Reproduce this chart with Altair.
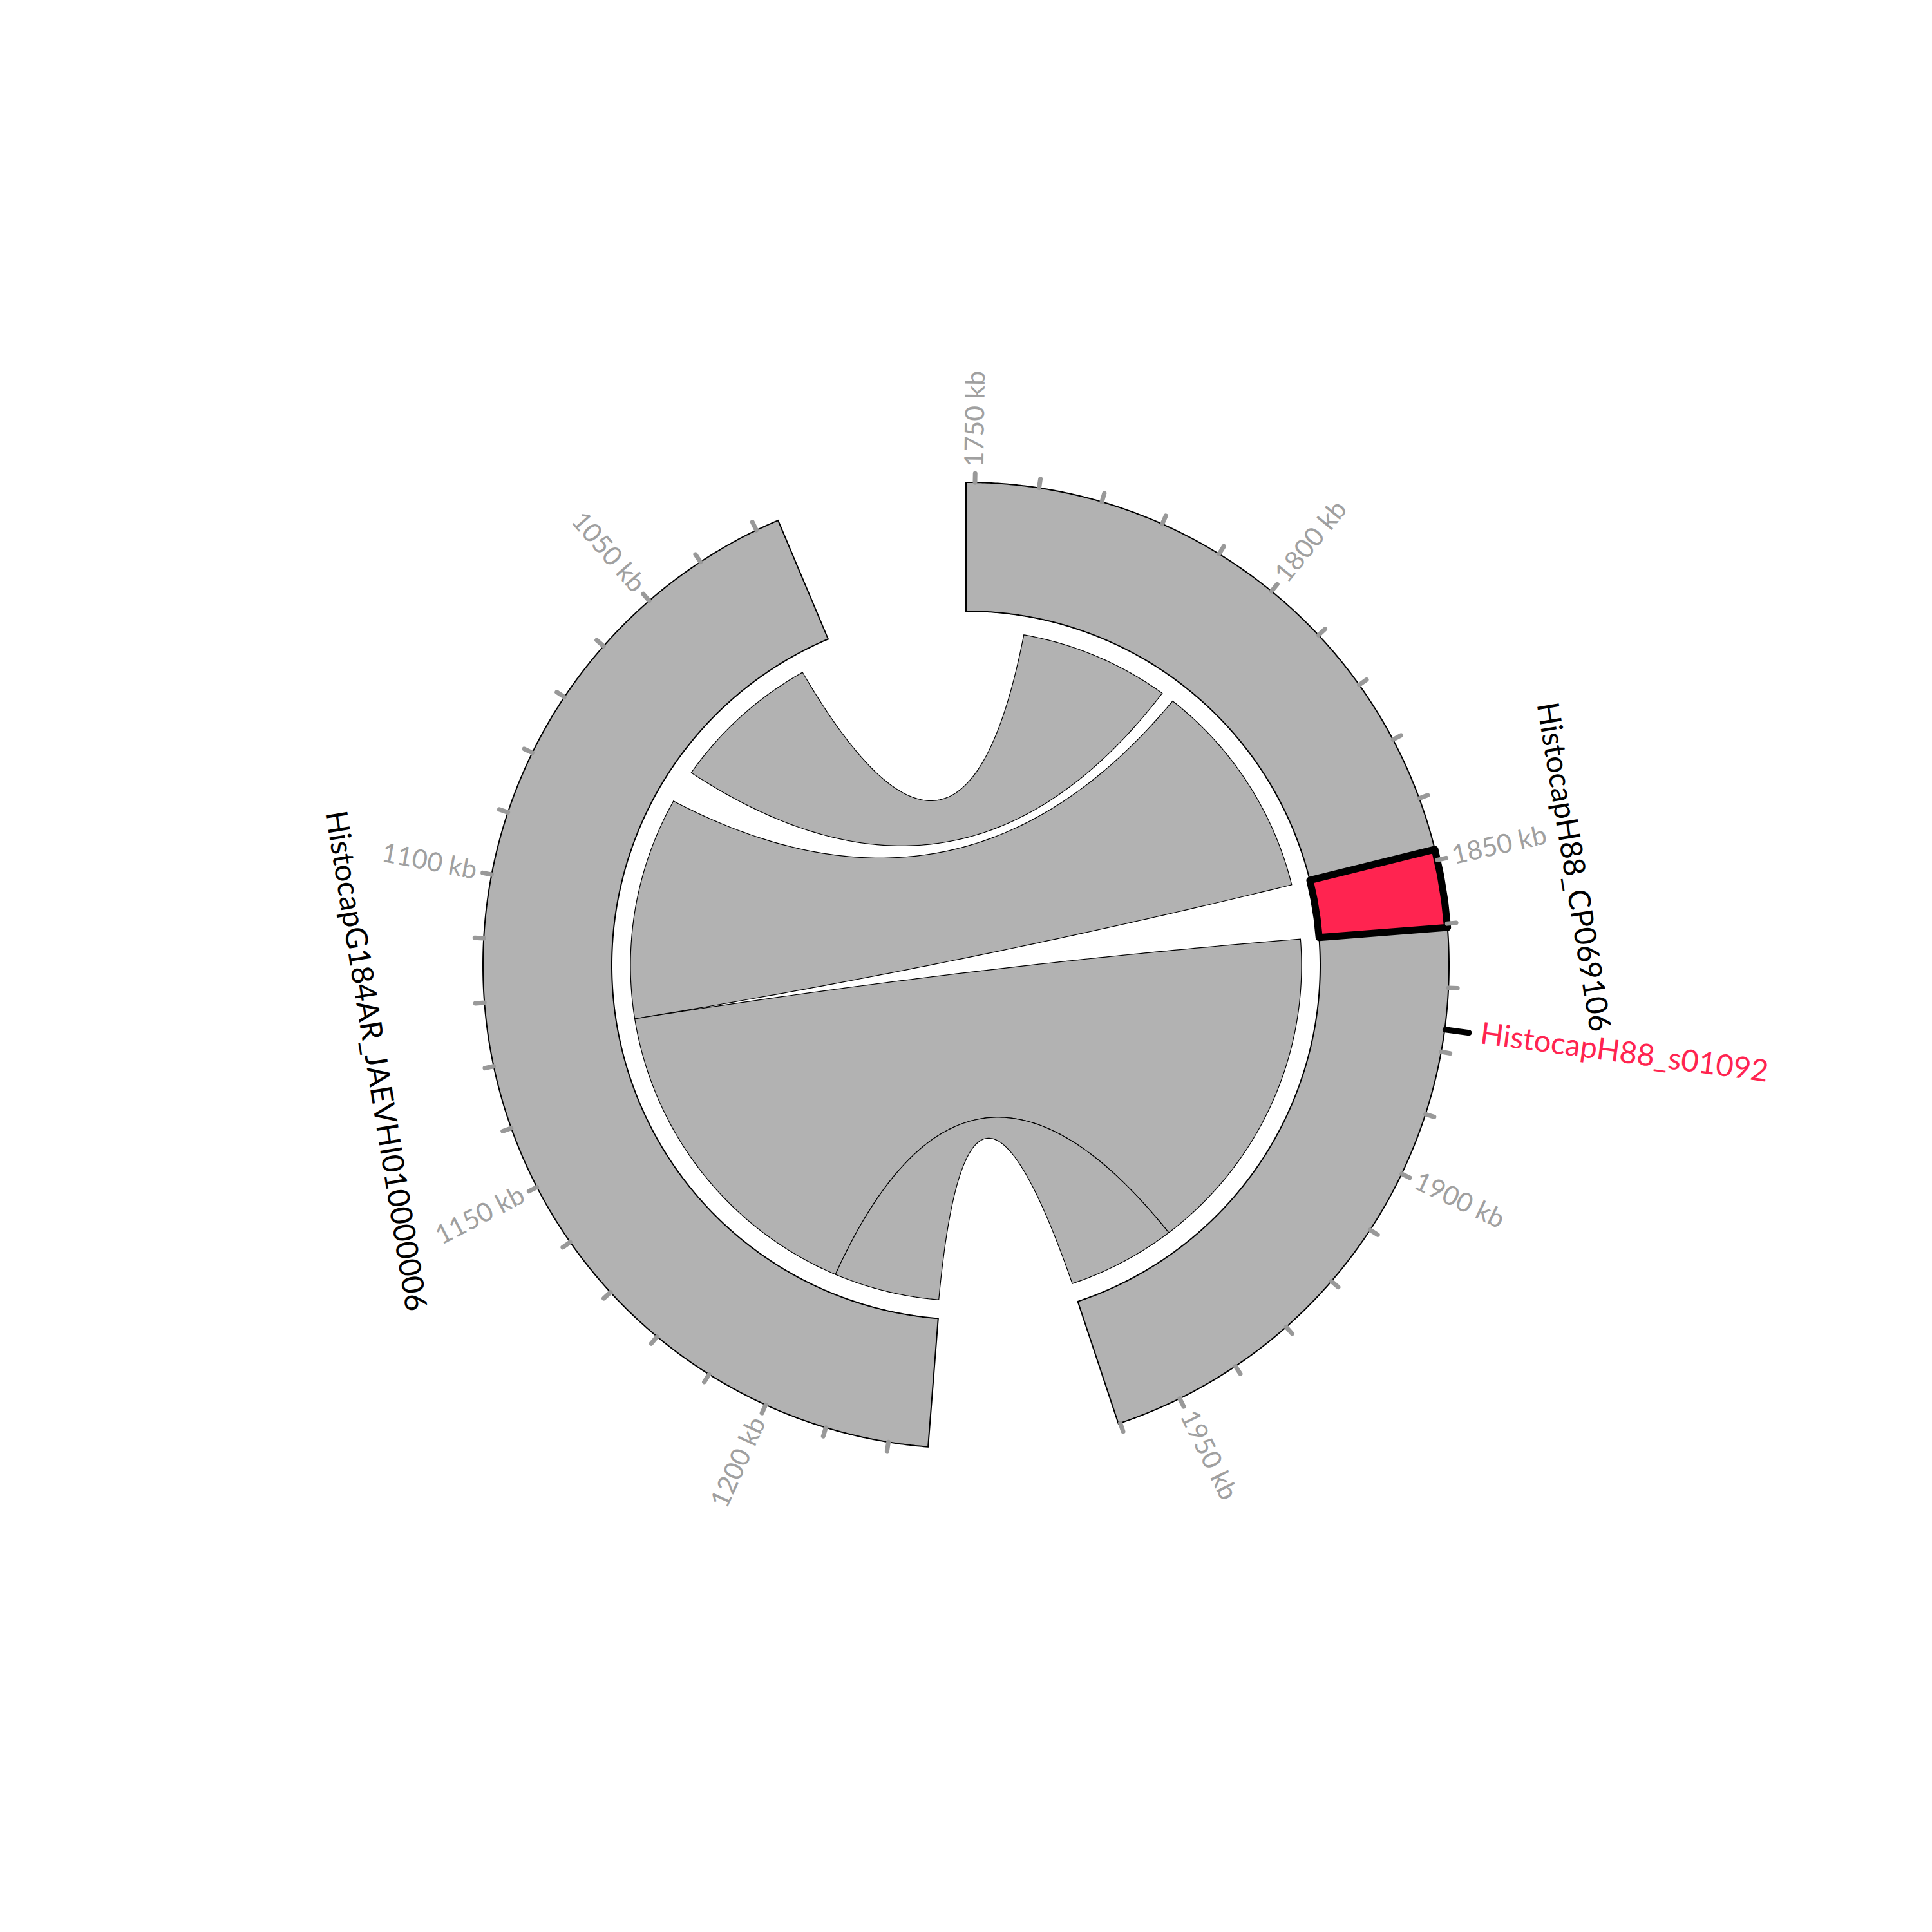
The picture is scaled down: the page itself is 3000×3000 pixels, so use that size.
import math
import altair as alt

# ---------------- data ----------------
sector_names = ["HistocapH88_CP069106", "HistocapG184AR_JAEVHI010000006"]
sector_start_kb = [1748.6, 1026.3]
sector_end_kb = [1960.3, 1226.2]
sector_reversed = [False, True]

# synteny links: region on sector 0 <-> region on sector 1
link_a_start = [1761.6, 1798.4, 1860.6, 1935.7]
link_a_end = [1795.5, 1848.3, 1935.7, 1960.2]
link_b_start = [1034.5, 1075.8, 1126.2, 1202.1]
link_b_end = [1068.3, 1126.2, 1202.1, 1226.0]

highlight_start_kb = [1848.3]
highlight_end_kb = [1860.6]

annot_kb = [1876.5]
annot_label = ["HistocapH88_s01092"]

minor_tick_kb = 10
major_tick_kb = 50

# ---------------- layout ----------------
CX, CY = 1500 - 8, 1499 - 8
R_OUT, R_IN, R_LINK = 750, 550, 521
GAP_DEG = 22.9
CTRL = 0.06          # bezier control point = CTRL * chord midpoint
GRAY = "#b2b2b2"
RED = "#ff2450"
FONT = "Lato"

lengths = [e - s for s, e in zip(sector_start_kb, sector_end_kb)]
deg_per_kb = (360 - GAP_DEG * len(lengths)) / sum(lengths)
sector_offset = []
acc = 0.0
for L in lengths:
    sector_offset.append(acc)
    acc += L * deg_per_kb + GAP_DEG


def angle_of(i, kb):
    if sector_reversed[i]:
        return sector_offset[i] + (sector_end_kb[i] - kb) * deg_per_kb
    return sector_offset[i] + (kb - sector_start_kb[i]) * deg_per_kb


def xy(r, deg):
    t = math.radians(deg)
    return [r * math.sin(t), -r * math.cos(t)]


def arc_pts(r, d0, d1, step=0.25):
    n = max(2, int(abs(d1 - d0) / step) + 1)
    return [xy(r, d0 + (d1 - d0) * k / (n - 1)) for k in range(n)]


def bez(p0, p2, n=120):
    c = [CTRL * (p0[0] + p2[0]) / 2, CTRL * (p0[1] + p2[1]) / 2]
    out = []
    for k in range(n + 1):
        t = k / n
        out.append([(1 - t) ** 2 * p0[0] + 2 * (1 - t) * t * c[0] + t * t * p2[0],
                    (1 - t) ** 2 * p0[1] + 2 * (1 - t) * t * c[1] + t * t * p2[1]])
    return out


def poly(ring, **props):
    ring = ring + [ring[0]]
    return {"type": "Feature", "properties": props,
            "geometry": {"type": "Polygon", "coordinates": [ring]}}


def line(pts, **props):
    return {"type": "Feature", "properties": props,
            "geometry": {"type": "LineString", "coordinates": pts}}


proj = dict(type="identity", scale=1, translate=[CX, CY])

# sectors
sector_feats = []
for i in range(len(sector_names)):
    a0 = min(angle_of(i, sector_start_kb[i]), angle_of(i, sector_end_kb[i]))
    a1 = max(angle_of(i, sector_start_kb[i]), angle_of(i, sector_end_kb[i]))
    sector_feats.append(poly(arc_pts(R_OUT, a0, a1) + arc_pts(R_IN, a1, a0), name=sector_names[i]))

# links
link_feats = []
for s1, e1, s2, e2 in zip(link_a_start, link_a_end, link_b_start, link_b_end):
    a1, a2 = angle_of(0, s1), angle_of(0, e1)
    b1, b2 = angle_of(1, s2), angle_of(1, e2)
    ring = (arc_pts(R_LINK, a1, a2)
            + bez(xy(R_LINK, a2), xy(R_LINK, b2))
            + arc_pts(R_LINK, b2, b1)
            + bez(xy(R_LINK, b1), xy(R_LINK, a1)))
    link_feats.append(poly(ring))

# highlight
hl_feats = []
for s, e in zip(highlight_start_kb, highlight_end_kb):
    h0, h1 = angle_of(0, s), angle_of(0, e)
    hl_feats.append(poly(arc_pts(R_OUT, h0, h1, 3) + arc_pts(R_IN, h1, h0, 3)))

# ticks & tick labels
tick_feats = []
lab_right, lab_left = [], []
for i in range(len(sector_names)):
    kb = math.ceil(sector_start_kb[i] / minor_tick_kb) * minor_tick_kb
    while kb <= sector_end_kb[i]:
        th = angle_of(i, kb)
        tick_feats.append(line([xy(750, th), xy(764, th)]))
        if kb % major_tick_kb == 0:
            p = xy(774, th)
            if th % 360 < 180:
                lab_right.append({"x": p[0], "y": p[1], "a": (th - 90) % 360, "t": f"{kb} kb"})
            else:
                lab_left.append({"x": p[0], "y": p[1], "a": (th + 90) % 360, "t": f"{kb} kb"})
        kb += minor_tick_kb

# sector name labels
name_rows = []
for i in range(len(sector_names)):
    a0 = angle_of(i, sector_start_kb[i])
    a1 = angle_of(i, sector_end_kb[i])
    th = (a0 + a1) / 2
    p = xy(942, th)
    rot = th if th < 180 else th - 180
    name_rows.append({"x": p[0], "y": p[1], "a": rot % 360, "t": sector_names[i]})

# annotation
annot_feats = []
annot_rows = []
for kb, lab in zip(annot_kb, annot_label):
    th = angle_of(0, kb)
    annot_feats.append(line([xy(751, th), xy(788, th)]))
    p = xy(806, th)
    annot_rows.append({"x": p[0], "y": p[1], "a": (th - 90) % 360, "t": lab})


def geo(feats, **mk):
    return alt.Chart(alt.Data(values=feats)).mark_geoshape(**mk).project(**proj)


def txt(rows, **mk):
    return alt.Chart(alt.Data(values=rows)).mark_text(font=FONT, **mk).encode(
        longitude=alt.Longitude("x:Q"),
        latitude=alt.Latitude("y:Q"),
        angle=alt.Angle("a:Q", scale=None),
        text=alt.Text("t:N"),
    ).project(**proj)


layers = [
    geo(sector_feats, fill=GRAY, stroke="black", strokeWidth=2),
    geo(link_feats, fill=GRAY, stroke="black", strokeWidth=1.2),
    geo(hl_feats, fill=RED, stroke="black", strokeWidth=11, strokeJoin="round"),
    geo(tick_feats, filled=False, fill=None, stroke="#999999", strokeWidth=7, strokeCap="round"),
    geo(annot_feats, filled=False, fill=None, stroke="black", strokeWidth=9, strokeCap="round"),
    txt(lab_right, align="left", baseline="middle", fontSize=41, color="#a0a0a0"),
    txt(lab_left, align="right", baseline="middle", fontSize=41, color="#a0a0a0"),
    txt(name_rows, align="center", baseline="middle", dy=-12, fontSize=47, color="black"),
    txt(annot_rows, align="left", baseline="middle", fontSize=47, color=RED),
]

chart = alt.layer(*layers).properties(
    width=2984, height=2984, autosize=alt.AutoSizeParams(type="none"), padding=0,
    background="white",
).configure_view(stroke=None)

chart.save("out.html", embed_options={"renderer": "svg", "actions": False})
